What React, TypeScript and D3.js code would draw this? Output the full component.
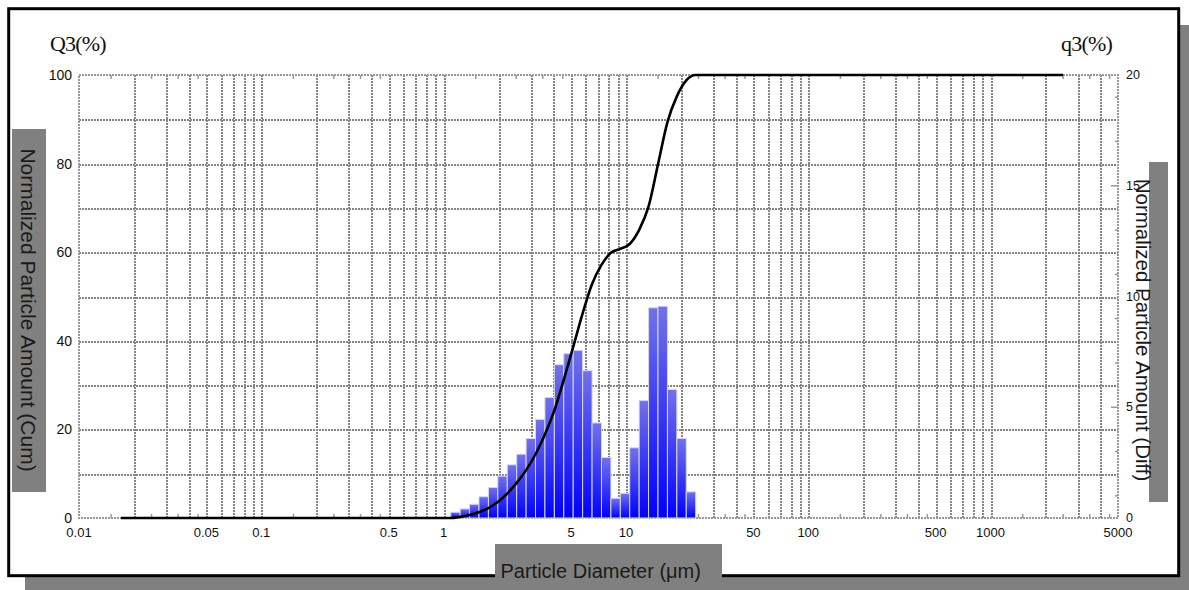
import React from 'react';
import * as d3 from 'd3';

const WIDTH = 1189;
const HEIGHT = 590;
const PLOT = { left: 79, right: 1118, top: 75, bottom: 518 };

// bin edges of the size classes (um) that carry a non-zero amount
const binEdges = [
    1.094, 1.232, 1.388, 1.563, 1.761, 1.983, 2.234, 2.516, 2.834, 3.192, 3.595, 4.05, 4.561, 5.138,
    5.787, 6.519, 7.342, 8.27, 9.316, 10.49, 11.82, 13.31, 14.99, 16.89, 19.02, 21.42, 24.13,
];

// q3 (%) for each bin, differential
const q3 = [
    0.26, 0.41, 0.62, 0.96, 1.38, 1.89, 2.4, 2.88, 3.59, 4.45, 5.44, 6.92, 7.42, 7.57, 6.65, 4.29,
    2.73, 0.89, 1.11, 3.17, 5.3, 9.49, 9.56, 5.8, 3.59, 1.18,
];

// Q3 (%) cumulative curve, read at the size points below
const cumSizes = [
    0.017, 1.094, 1.232, 1.388, 1.563, 1.761, 1.983, 2.234, 2.516, 2.834, 3.192, 3.595, 4.05, 4.561,
    5.138, 5.787, 6.519, 7.342, 8.27, 9.316, 10.49, 11.82, 13.31, 14.99, 16.89, 19.02, 21.42, 24.13,
    2500,
];
const Q3 = [
    0, 0, 0.26, 0.67, 1.29, 2.25, 3.63, 5.52, 7.92, 10.8, 14.39, 18.84, 24.28, 31.2, 38.62, 46.19,
    52.84, 57.13, 59.86, 60.75, 61.86, 65.03, 70.33, 79.82, 89.38, 95.18, 98.77, 100, 100,
];

const xTickLabels = [0.01, 0.05, 0.1, 0.5, 1, 5, 10, 50, 100, 500, 1000, 5000];
const leftTicks = [0, 20, 40, 60, 80, 100];
const rightTicks = [0, 5, 10, 15, 20];
const decades = [0.01, 0.1, 1, 10, 100, 1000];
const gridMultiples = [1, 2, 3, 4, 5, 6, 7, 8, 9];
const minorMultiples = [1.5, 2.5, 3.5, 4.5];
const rightMinor = [1, 3, 5, 7, 9, 11, 13, 15, 17, 19];

const SANS = '"Liberation Sans", Arial, Helvetica, sans-serif';
const SERIF = '"Liberation Serif", "Times New Roman", serif';
const GRID = '#858585';

export default function App() {
    const x = d3.scaleLog().domain([0.01, 5000]).range([PLOT.left, PLOT.right]);
    const yL = d3.scaleLinear().domain([0, 100]).range([PLOT.bottom, PLOT.top]);
    const yR = d3.scaleLinear().domain([0, 20]).range([PLOT.bottom, PLOT.top]);

    // snap to the pixel grid so the dotted lines stay crisp
    const px = (v: number) => Math.round(v) + 0.5;

    const gridX = decades
        .flatMap((d) => gridMultiples.map((m) => +(d * m).toPrecision(3)))
        .filter((v) => v > 0.01 && v < 5000);
    const minorX = decades
        .flatMap((d) => minorMultiples.map((m) => d * m))
        .filter((v) => v < 5000);
    const gridY = d3.range(10, 100, 10);

    const line = d3
        .line<number>()
        .x((_, i) => x(cumSizes[i]))
        .y((d) => yL(d))
        .curve(d3.curveMonotoneX);

    return (
        <svg
            width={WIDTH}
            height={HEIGHT}
            style={{ position: 'absolute', left: 0, top: 0, background: '#fff' }}
        >
            <defs>
                <linearGradient id="barFill" x1="0" y1="0" x2="0" y2="1">
                    <stop offset="0%" stopColor="#7272ea" />
                    <stop offset="100%" stopColor="#0000ff" />
                </linearGradient>
            </defs>

            {/* frame and shadow */}
            <rect x={25} y={25} width={1164} height={565} fill="#808080" />
            <rect x={8.7} y={8.7} width={1170} height={567} fill="#fff" stroke="#000" strokeWidth={3} />

            {/* grid */}
            <g stroke={GRID} strokeWidth={2} strokeDasharray="2 1" fill="none" shapeRendering="crispEdges">
                {gridX.map((v) => (
                    <line key={'gx' + v} x1={px(x(v))} x2={px(x(v))} y1={PLOT.top} y2={PLOT.bottom} />
                ))}
                {gridY.map((v) => (
                    <line key={'gy' + v} x1={PLOT.left} x2={PLOT.right} y1={px(yL(v))} y2={px(yL(v))} />
                ))}
                <rect
                    x={PLOT.left}
                    y={PLOT.top}
                    width={PLOT.right - PLOT.left}
                    height={PLOT.bottom - PLOT.top}
                    stroke="#999"
                />
            </g>

            {/* minor ticks */}
            <g stroke="#9a9a9a" strokeWidth={1.5}>
                {minorX.map((v) => (
                    <g key={'mt' + v}>
                        <line x1={x(v)} x2={x(v)} y1={PLOT.bottom} y2={PLOT.bottom - 4} />
                        <line x1={x(v)} x2={x(v)} y1={PLOT.top} y2={PLOT.top + 4} />
                    </g>
                ))}
                {rightMinor.map((v) => (
                    <line
                        key={'rt' + v}
                        x1={PLOT.right}
                        x2={PLOT.right - (v % 5 === 0 ? 7 : 3)}
                        y1={yR(v)}
                        y2={yR(v)}
                    />
                ))}
            </g>

            {/* bars (q3) */}
            <g fill="url(#barFill)" stroke="#d8d8d8" strokeWidth={1}>
                {q3.map((v, i) => (
                    <rect
                        key={'b' + i}
                        x={x(binEdges[i])}
                        width={x(binEdges[i + 1]) - x(binEdges[i])}
                        y={yR(v)}
                        height={yR(0) - yR(v)}
                    />
                ))}
            </g>

            {/* cumulative curve (Q3) */}
            <path d={line(Q3) || ''} fill="none" stroke="#000" strokeWidth={2.6} />

            {/* tick labels */}
            <g fontFamily={SANS} fill="#111">
                {leftTicks.map((v) => (
                    <text key={'l' + v} x={72} y={yL(v)} fontSize={14} textAnchor="end" dominantBaseline="central">
                        {v}
                    </text>
                ))}
                {rightTicks.map((v) => (
                    <text key={'r' + v} x={1126} y={yR(v)} fontSize={12.5} dominantBaseline="central">
                        {v}
                    </text>
                ))}
                {xTickLabels.map((v) => (
                    <text key={'x' + v} x={x(v)} y={532} fontSize={13} textAnchor="middle" dominantBaseline="central">
                        {v}
                    </text>
                ))}
            </g>

            {/* unit headers */}
            <text x={50} y={51} fontFamily={SERIF} fontSize={22} letterSpacing={-0.8} fill="#111">
                Q3(%)
            </text>
            <text x={1061} y={51} fontFamily={SERIF} fontSize={22} letterSpacing={-0.8} fill="#111">
                q3(%)
            </text>

            {/* axis titles */}
            <rect x={12} y={129} width={34} height={363} fill="#808080" />
            <text
                transform="translate(28.5,310) rotate(90)"
                fontFamily={SANS}
                fontSize={21}
                textAnchor="middle"
                dominantBaseline="central"
                fill="#1a1a1a"
            >
                Normalized Particle Amount (Cum)
            </text>

            <rect x={1149} y={162} width={19} height={340} fill="#808080" />
            <text
                transform="translate(1143,330) rotate(90)"
                fontFamily={SANS}
                fontSize={20.5}
                textAnchor="middle"
                dominantBaseline="central"
                fill="#1a1a1a"
            >
                Normalized Particle Amount (Diff)
            </text>

            <rect x={495} y={544} width={227} height={46} fill="#808080" />
            <text x={500.5} y={578} fontFamily={SANS} fontSize={20} fill="#1a1a1a">
                Particle Diameter (μm)
            </text>
        </svg>
    );
}
